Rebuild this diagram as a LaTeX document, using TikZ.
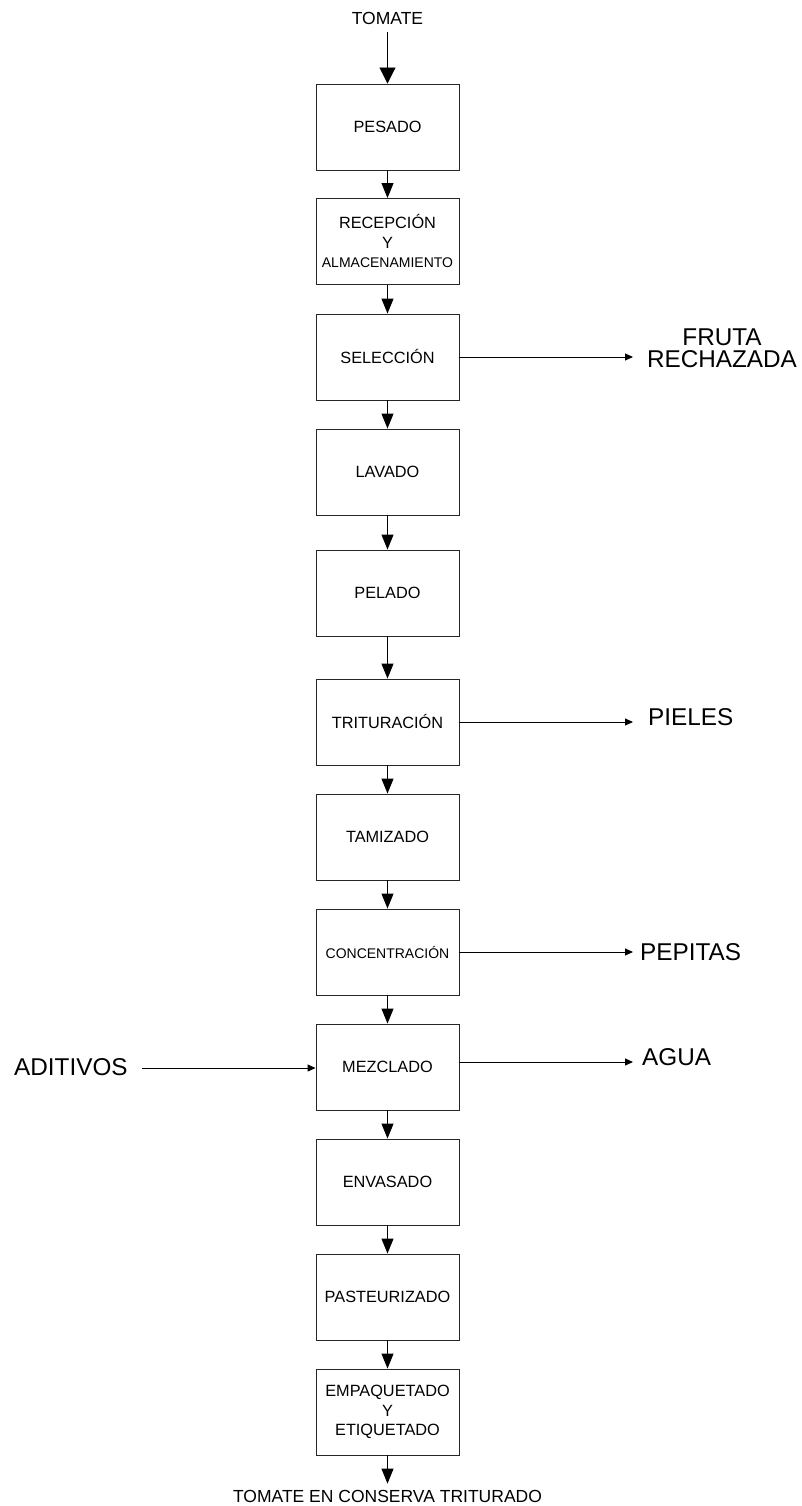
\documentclass[tikz,border=0pt]{standalone}
\usepackage{fontspec}
\setmainfont{Liberation Sans}
\usetikzlibrary{arrows.meta}
\begin{document}
\begin{tikzpicture}[x=1pt,y=-1pt,
  stepbox/.style={draw=black!85, line width=0.9pt, minimum width=143pt, minimum height=86pt, inner sep=0pt, font=\fontsize{16.3}{19.5}\selectfont, align=center},
  flow/.style={line width=0.9pt, -{Triangle[length=15pt,width=12pt]}},
  bigflow/.style={line width=0.9pt, -{Triangle[length=16pt,width=16pt]}},
  side/.style={line width=0.9pt, -{Triangle[length=8pt,width=7pt]}},
  biglbl/.style={font=\fontsize{24.3}{22}\selectfont, inner sep=0pt},
  lbl/.style={font=\fontsize{17.5}{20}\selectfont, inner sep=0pt}]
\useasboundingbox (0,0) rectangle (801,1506);
\node[lbl] (tom) at (387.5,18) {TOMATE};
\node[stepbox] (b1) at (387.5,127) {PESADO};
\node[stepbox] (b2) at (387.5,241.5) {RECEPCIÓN\\Y\\{\fontsize{14}{19.5}\selectfont ALMACENAMIENTO}};
\node[stepbox] (b3) at (387.5,357) {SELECCIÓN};
\node[stepbox] (b4) at (387.5,472) {LAVADO};
\node[stepbox] (b5) at (387.5,593) {PELADO};
\node[stepbox] (b6) at (387.5,722) {TRITURACIÓN};
\node[stepbox] (b7) at (387.5,837) {TAMIZADO};
\node[stepbox, font=\fontsize{14}{19.5}\selectfont] (b8) at (387.5,952) {CONCENTRACIÓN};
\node[stepbox] (b9) at (387.5,1067) {MEZCLADO};
\node[stepbox] (b10) at (387.5,1182) {ENVASADO};
\node[stepbox] (b11) at (387.5,1297) {PASTEURIZADO};
\node[stepbox] (b12) at (387.5,1412) {EMPAQUETADO\\Y\\ETIQUETADO};
\node[lbl] (fin) at (387.5,1496) {TOMATE EN CONSERVA TRITURADO};

\draw[bigflow] ([yshift=-8pt]tom.south) -- (b1.north);
\foreach \a/\b in {b1/b2,b2/b3,b3/b4,b4/b5,b5/b6,b6/b7,b7/b8,b8/b9,b9/b10,b10/b11,b11/b12}
  \draw[flow] (\a.south) -- (\b.north);
\draw[flow] (b12.south) -- ([yshift=6pt]fin.north);

\node[biglbl, align=center] (fr) at (722,348) {FRUTA\\RECHAZADA};
\coordinate (e3) at (633,357);
\draw[side] (b3.east) -- (e3);

\node[biglbl, anchor=west] (pi) at (648,717.5) {PIELES};
\coordinate (e6) at (633,722);
\draw[side] (b6.east) -- (e6);

\node[biglbl, anchor=west] (pe) at (640,952) {PEPITAS};
\coordinate (e8) at (633,952);
\draw[side] (b8.east) -- (e8);

\node[biglbl, anchor=west] (ag) at (642,1057) {AGUA};
\coordinate (e9) at (633,1062);
\draw[side] (b9.east |- e9) -- (e9);

\node[biglbl, anchor=west] (ad) at (14,1067) {ADITIVOS};
\coordinate (s9) at (142,1068);
\draw[side] (s9) -- (b9.west |- s9);
\end{tikzpicture}
\end{document}
